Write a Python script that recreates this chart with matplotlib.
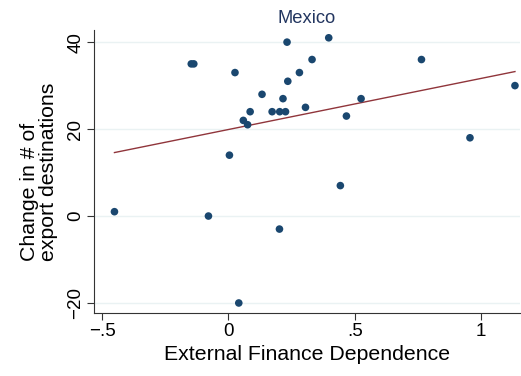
import numpy as np
import matplotlib
matplotlib.use("Agg")
import matplotlib.pyplot as plt
from matplotlib.ticker import FixedLocator, FixedFormatter

plt.rcParams['font.family'] = ['Liberation Sans', 'DejaVu Sans']

# external finance dependence vs change in number of export destinations
ext_fin = [-0.451, -0.147, -0.137, 0.026, 0.232, 0.397, 0.331, 0.281, 0.235,
           0.133, 0.216, 0.525, 0.764, 1.134, 0.305, 0.086, 0.173, 0.203,
           0.226, 0.467, 0.059, 0.076, 0.956, 0.004, -0.079, 0.202, 0.443,
           0.041]
chg_dest = [1, 35, 35, 33, 40, 41, 36, 33, 31,
            28, 27, 27, 36, 30, 25, 24, 24, 24,
            24, 23, 22, 21, 18, 14, 0, -3, 7,
            -20]

xticks = [-0.5, 0, 0.5, 1]
xtick_labels = ['\u2212.5', '0', '.5', '1']
yticks = [-20, 0, 20, 40]
ytick_labels = ['\u221220', '0', '20', '40']

navy = '#1a476f'
maroon = '#90353b'

fig = plt.figure(figsize=(5.21, 3.76), dpi=100)
ax = fig.add_axes([0.1804, 0.1676, 0.8177, 0.7527])

x = np.array(ext_fin)
y = np.array(chg_dest)
b, a = np.polyfit(x, y, 1)
xl = np.array([x.min(), x.max()])

for t in yticks:
    ax.axhline(t, color='#eaf2f3', lw=1.0, zorder=0)

ax.plot(xl, a + b * xl, color=maroon, lw=1.0, zorder=2)
ax.scatter(x, y, s=30, color=navy, edgecolors='none', zorder=3)

ax.set_xlim(-0.532, 1.154)
ax.set_ylim(-22.3, 42.8)

ax.xaxis.set_major_locator(FixedLocator(xticks))
ax.xaxis.set_major_formatter(FixedFormatter(xtick_labels))
ax.yaxis.set_major_locator(FixedLocator(yticks))
ax.yaxis.set_major_formatter(FixedFormatter(ytick_labels))
ax.tick_params(axis='both', labelsize=13.5, length=5, width=0.8,
               color='#333333', pad=2)
plt.setp(ax.get_yticklabels(), rotation=90, va='center')

for s in ['top', 'right']:
    ax.spines[s].set_visible(False)
for s in ['left', 'bottom']:
    ax.spines[s].set_color('#333333')
    ax.spines[s].set_linewidth(0.8)

ax.set_xlabel('External Finance Dependence', fontsize=15.3, labelpad=4)
ax.set_ylabel('Change in # of\nexport destinations', fontsize=15.3, labelpad=7,
              linespacing=1.0, multialignment='left')
ax.set_title('Mexico', fontsize=13.2, color='#233660', pad=5)

fig.savefig('out.png', dpi=100)
